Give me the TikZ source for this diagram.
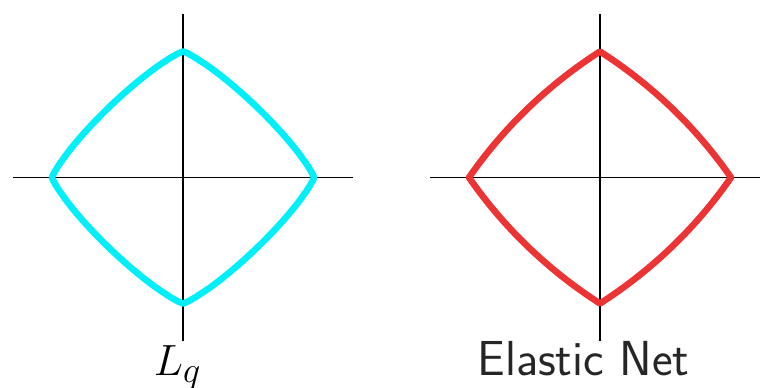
\documentclass[tikz,border=0pt]{standalone}
\usetikzlibrary{calc}
\definecolor{lqcyan}{RGB}{0,240,250}
\definecolor{enred}{RGB}{236,52,52}

\begin{document}
\begin{tikzpicture}[thick]
  \useasboundingbox (0,0) rectangle (15.2,7.76);
  \tikzset{axis/.style={black, line width=1pt},
           ball/.style={line width=3.7pt, line join=round},
           label/.style={anchor=base, font=\fontsize{28}{33}\selectfont}}

  \coordinate (O1) at (3.66,4.21);
  \coordinate (O2) at (12.0,4.21);

  \draw[axis] ($(O1)+(-3.4,0)$)--($(O1)+(3.4,0)$);
  \draw[axis] ($(O1)+(0,-3.27)$)--($(O1)+(0,3.27)$);
  \draw[axis] ($(O2)+(-3.4,0)$)--($(O2)+(3.4,0)$);
  \draw[axis] ($(O2)+(0,-3.27)$)--($(O2)+(0,3.27)$);

  % q = 1.2
  \draw[ball, lqcyan, shift={(O1)}, xscale=2.62, yscale=2.52]
    plot[domain=0:360, samples=361]
    ({cos(\x)*(max(abs(cos(\x)),0.00001)^1.2+max(abs(sin(\x)),0.00001)^1.2)^(-1/1.2)},
     {sin(\x)*(max(abs(cos(\x)),0.00001)^1.2+max(abs(sin(\x)),0.00001)^1.2)^(-1/1.2)}) -- cycle;

  % alpha = 0.2
  \draw[ball, enred, shift={(O2)}, xscale=2.62, yscale=2.52]
    plot[domain=0:360, samples=361]
    ({cos(\x)*(-0.8*(abs(cos(\x))+abs(sin(\x)))+sqrt(0.64*(abs(cos(\x))+abs(sin(\x)))^2+0.8))/0.4},
     {sin(\x)*(-0.8*(abs(cos(\x))+abs(sin(\x)))+sqrt(0.64*(abs(cos(\x))+abs(sin(\x)))^2+0.8))/0.4}) -- cycle;

  \node[label] (lq) at (3.55,0.24) {$L_q$};
  \node[label, font=\fontsize{28}{33}\selectfont\sffamily, text=black!85] (en) at (11.67,0.24) {Elastic Net};
\end{tikzpicture}
\end{document}
